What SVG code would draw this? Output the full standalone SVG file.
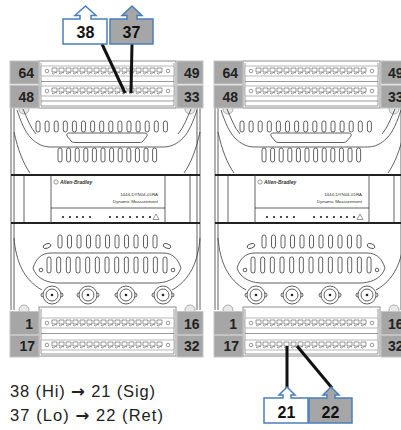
<svg xmlns="http://www.w3.org/2000/svg" width="401" height="430" viewBox="0 0 401 430">
<style>
  .ln{fill:none;stroke:#3a3a3a;stroke-width:0.8}
  .thin{fill:none;stroke:#555;stroke-width:0.6}
  .slot{fill:#fff;stroke:#3a3a3a;stroke-width:0.8}
  .frame{fill:#fff;stroke:#8c8c8c;stroke-width:1}
  .lbl{fill:#a6a6a6;stroke:#c4c4c4;stroke-width:1}
  .lt{font-family:"Liberation Sans",Arial,sans-serif;font-weight:bold;font-size:14px;fill:#222}
  .bar{fill:none;stroke:#222;stroke-width:2.2}
  .wire{stroke:#111;stroke-width:3}
  .co{stroke:#4a7ebb;stroke-width:1.5}
  .cot{font-family:"Liberation Sans",Arial,sans-serif;font-weight:bold;font-size:16px;fill:#111;text-anchor:middle}
  .note{font-family:"Liberation Sans",Arial,sans-serif;font-size:16.5px;fill:#222}
  .arr{font-family:"DejaVu Sans",sans-serif;font-weight:bold}
  .tiny{font-family:"Liberation Sans",Arial,sans-serif;fill:#333}
</style>
<defs>
  <!-- one 16-way terminal strip -->
  <g id="trow">
    <rect x="0" y="0" width="133" height="10" rx="1" fill="#fff" stroke="#9a9a9a" stroke-width="0.7"/>
    <circle cx="6" cy="5" r="1.8" class="thin"/>
    <circle cx="127" cy="5" r="1.8" class="thin"/>
    <path d="M11,2h5v4h-5z m7,0h5v4h-5z m7,0h5v4h-5z m7,0h5v4h-5z m7,0h5v4h-5z m7,0h5v4h-5z m7,0h5v4h-5z m7,0h5v4h-5z m7,0h5v4h-5z m7,0h5v4h-5z m7,0h5v4h-5z m7,0h5v4h-5z m7,0h5v4h-5z m7,0h5v4h-5z m7,0h5v4h-5z m7,0h5v4h-5z" fill="#fff" stroke="#555" stroke-width="0.6"/>
    <path class="thin" d="M11,7.2q1.25,1.6 2.5,0t2.5,0 m2,0q1.25,1.6 2.5,0t2.5,0 m2,0q1.25,1.6 2.5,0t2.5,0 m2,0q1.25,1.6 2.5,0t2.5,0 m2,0q1.25,1.6 2.5,0t2.5,0 m2,0q1.25,1.6 2.5,0t2.5,0 m2,0q1.25,1.6 2.5,0t2.5,0 m2,0q1.25,1.6 2.5,0t2.5,0 m2,0q1.25,1.6 2.5,0t2.5,0 m2,0q1.25,1.6 2.5,0t2.5,0 m2,0q1.25,1.6 2.5,0t2.5,0 m2,0q1.25,1.6 2.5,0t2.5,0 m2,0q1.25,1.6 2.5,0t2.5,0 m2,0q1.25,1.6 2.5,0t2.5,0 m2,0q1.25,1.6 2.5,0t2.5,0 m2,0q1.25,1.6 2.5,0t2.5,0"/>
  </g>
  <!-- BNC input connector -->
  <g id="bnc">
    <circle r="9" class="ln" fill="#fff"/>
    <circle r="6" class="ln"/>
    <circle r="1.3" fill="#222"/>
    <path class="ln" d="M-9,-2a2,2 0 0 0 0,4M9,-2a2,2 0 0 1 0,4"/>
  </g>
  <!-- 1444 dynamic measurement module -->
  <g id="dyn">
    <g fill="#e8e8e8" stroke="#9a9a9a" stroke-width="0.8">
      <circle cx="24" cy="109" r="5"/><circle cx="190" cy="109" r="5"/>
      <circle cx="24" cy="310" r="5"/><circle cx="190" cy="310" r="5"/>
    </g>
    <!-- housing sides -->
    <path class="ln" d="M11,108V310M14,108V310M197,108V310M200,108V310"/>
    <path class="ln" d="M24,175V223M190,175V223"/>
    <!-- upper cover -->
    <path class="ln" d="M17,110C21,122 25,132 31,138C37,144 43,147 51,147H163C171,147 177,144 183,138C189,132 193,122 197,110"/>
    <path class="ln" d="M23,109C27,118 30,127 36,134M191,109C187,118 184,127 178,134"/>
    <path class="ln" d="M14,132C18,150 23,163 30,173M200,132C196,150 191,163 184,173"/>
    <path class="slot" d="M36,123a2,2 0 0 1 4,0v7a2,2 0 0 1 -4,0z m9.1,0a2,2 0 0 1 4,0v7a2,2 0 0 1 -4,0z m9.1,0a2,2 0 0 1 4,0v7a2,2 0 0 1 -4,0z m9.1,0a2,2 0 0 1 4,0v7a2,2 0 0 1 -4,0z m9.1,0a2,2 0 0 1 4,0v7a2,2 0 0 1 -4,0z m9.1,0a2,2 0 0 1 4,0v7a2,2 0 0 1 -4,0z m9.1,0a2,2 0 0 1 4,0v7a2,2 0 0 1 -4,0z m9.1,0a2,2 0 0 1 4,0v7a2,2 0 0 1 -4,0z m9.1,0a2,2 0 0 1 4,0v7a2,2 0 0 1 -4,0z m9.1,0a2,2 0 0 1 4,0v7a2,2 0 0 1 -4,0z m9.1,0a2,2 0 0 1 4,0v7a2,2 0 0 1 -4,0z m9.1,0a2,2 0 0 1 4,0v7a2,2 0 0 1 -4,0z m9.1,0a2,2 0 0 1 4,0v7a2,2 0 0 1 -4,0z m9.1,0a2,2 0 0 1 4,0v7a2,2 0 0 1 -4,0z m9.1,0a2,2 0 0 1 4,0v7a2,2 0 0 1 -4,0z"/>
    <path class="slot" d="M70,133H144Q148,133 147,136L143,141Q142,142.5 139,142.5H75Q72,142.5 71,141L67,136Q66,133 70,133Z"/>
    <path class="slot" d="M58,150a2,2 0 0 1 4,0v10a2,2 0 0 1 -4,0z m8.6,0a2,2 0 0 1 4,0v10a2,2 0 0 1 -4,0z m8.6,0a2,2 0 0 1 4,0v10a2,2 0 0 1 -4,0z m8.6,0a2,2 0 0 1 4,0v10a2,2 0 0 1 -4,0z m8.6,0a2,2 0 0 1 4,0v10a2,2 0 0 1 -4,0z m8.6,0a2,2 0 0 1 4,0v10a2,2 0 0 1 -4,0z m8.6,0a2,2 0 0 1 4,0v10a2,2 0 0 1 -4,0z m8.6,0a2,2 0 0 1 4,0v10a2,2 0 0 1 -4,0z m8.6,0a2,2 0 0 1 4,0v10a2,2 0 0 1 -4,0z m8.6,0a2,2 0 0 1 4,0v10a2,2 0 0 1 -4,0z m8.6,0a2,2 0 0 1 4,0v10a2,2 0 0 1 -4,0z m8.6,0a2,2 0 0 1 4,0v10a2,2 0 0 1 -4,0z"/>
    <!-- label panel -->
    <path class="bar" d="M11,175H200M11,223H200"/>
    <path class="ln" d="M51,175V223M165,175V223M51,208H165"/>
    <circle cx="56" cy="182" r="2.1" class="thin"/>
    <text class="tiny" x="60" y="184" font-size="5" font-weight="bold" font-style="italic">Allen-Bradley</text>
    <text class="tiny" x="158" y="196" font-size="4.4" text-anchor="end">1444-DYN04-01RA</text>
    <text class="tiny" x="158" y="203" font-size="4.4" text-anchor="end">Dynamic Measurement</text>
    <g fill="#222">
      <circle cx="63" cy="217" r="1.1"/><circle cx="70" cy="217" r="1.1"/><circle cx="77" cy="217" r="1.1"/><circle cx="83" cy="217" r="1.1"/><circle cx="90" cy="217" r="1.1"/>
      <circle cx="110" cy="217" r="1.1"/><circle cx="117" cy="217" r="1.1"/><circle cx="123" cy="217" r="1.1"/><circle cx="130" cy="217" r="1.1"/><circle cx="137" cy="217" r="1.1"/><circle cx="143" cy="217" r="1.1"/><circle cx="150" cy="217" r="1.1"/>
    </g>
    <path class="thin" d="M156,214L159,219.5H153Z"/>
    <!-- lower cover -->
    <path class="slot" d="M58,237a2,2 0 0 1 4,0v9a2,2 0 0 1 -4,0z m9.5,0a2,2 0 0 1 4,0v9a2,2 0 0 1 -4,0z m9.5,0a2,2 0 0 1 4,0v9a2,2 0 0 1 -4,0z m9.5,0a2,2 0 0 1 4,0v9a2,2 0 0 1 -4,0z m9.5,0a2,2 0 0 1 4,0v9a2,2 0 0 1 -4,0z m9.5,0a2,2 0 0 1 4,0v9a2,2 0 0 1 -4,0z m9.5,0a2,2 0 0 1 4,0v9a2,2 0 0 1 -4,0z m9.5,0a2,2 0 0 1 4,0v9a2,2 0 0 1 -4,0z m9.5,0a2,2 0 0 1 4,0v9a2,2 0 0 1 -4,0z m9.5,0a2,2 0 0 1 4,0v9a2,2 0 0 1 -4,0z m9.5,0a2,2 0 0 1 4,0v9a2,2 0 0 1 -4,0z"/>
    <ellipse class="ln" cx="47" cy="246" rx="4" ry="2.2" transform="rotate(-20 47 246)"/>
    <ellipse class="ln" cx="167" cy="246" rx="4" ry="2.2" transform="rotate(20 167 246)"/>
    <path class="ln" d="M33,268C36,259 41,253 51,253H163C173,253 178,259 181,268C178,277 170,282 158,283H56C44,282 36,277 33,268Z"/>
    <path class="ln" d="M14,238C16,262 24,280 42,290M200,238C198,262 190,280 172,290"/>
    <path class="slot" d="M47,259a2,2 0 0 1 4,0v12a2,2 0 0 1 -4,0z m9.67,0a2,2 0 0 1 4,0v12a2,2 0 0 1 -4,0z m9.67,0a2,2 0 0 1 4,0v12a2,2 0 0 1 -4,0z m9.67,0a2,2 0 0 1 4,0v12a2,2 0 0 1 -4,0z m9.67,0a2,2 0 0 1 4,0v12a2,2 0 0 1 -4,0z m9.67,0a2,2 0 0 1 4,0v12a2,2 0 0 1 -4,0z m9.67,0a2,2 0 0 1 4,0v12a2,2 0 0 1 -4,0z m9.67,0a2,2 0 0 1 4,0v12a2,2 0 0 1 -4,0z m9.67,0a2,2 0 0 1 4,0v12a2,2 0 0 1 -4,0z m9.67,0a2,2 0 0 1 4,0v12a2,2 0 0 1 -4,0z m9.67,0a2,2 0 0 1 4,0v12a2,2 0 0 1 -4,0z m9.67,0a2,2 0 0 1 4,0v12a2,2 0 0 1 -4,0z m9.67,0a2,2 0 0 1 4,0v12a2,2 0 0 1 -4,0z"/>
    <circle class="ln" cx="41" cy="270" r="1.8"/>
    <circle class="ln" cx="173" cy="270" r="1.8"/>
    <use href="#bnc" x="52" y="295"/>
    <use href="#bnc" x="88" y="295"/>
    <use href="#bnc" x="126" y="295"/>
    <use href="#bnc" x="163" y="295"/>
    <!-- upper terminal block -->
    <rect class="frame" x="39" y="61" width="137" height="47"/>
    <path class="thin" stroke="#aaa" d="M41,63V106H174V63M41,81.5H174M41,101H174"/>
    <use href="#trow" x="41" y="66"/>
    <use href="#trow" x="41" y="86"/>
    <!-- lower terminal block -->
    <rect class="frame" x="39" y="307" width="137" height="49"/>
    <path class="thin" stroke="#aaa" d="M41,309V354H174V309M41,333.5H174"/>
    <use href="#trow" x="41" y="318"/>
    <use href="#trow" x="41" y="340"/>
    <!-- terminal numbering tabs -->
    <rect class="lbl" x="10" y="61" width="29" height="23"/>
    <rect class="lbl" x="10" y="85.5" width="29" height="22.5"/>
    <rect class="lbl" x="177" y="61" width="26" height="23"/>
    <rect class="lbl" x="177" y="85.5" width="26" height="22.5"/>
    <rect class="lbl" x="10" y="311.5" width="29" height="23"/>
    <rect class="lbl" x="10" y="335.5" width="29" height="21.5"/>
    <rect class="lbl" x="177" y="311.5" width="26" height="23"/>
    <rect class="lbl" x="177" y="335.5" width="26" height="21.5"/>
    <g class="lt">
      <text x="34" y="77.5" text-anchor="end">64</text>
      <text x="34" y="101.5" text-anchor="end">48</text>
      <text x="184" y="77.5">49</text>
      <text x="184" y="101.5">33</text>
      <text x="33" y="328.5" text-anchor="end">1</text>
      <text x="35" y="351" text-anchor="end">17</text>
      <text x="184" y="328.5">16</text>
      <text x="184" y="351">32</text>
    </g>
  </g>
</defs>

<g id="module-left"><use href="#dyn"/></g>
<g id="module-right"><use href="#dyn" x="204"/></g>

<g id="connectors" class="wire">
  <line x1="102" y1="44" x2="125" y2="93"/>
  <line x1="132" y1="44" x2="131" y2="93"/>
  <line x1="287" y1="346" x2="287" y2="388"/>
  <line x1="297" y1="346" x2="332" y2="388"/>
</g>

<g id="callout-38">
  <path class="co" fill="#fff" d="M63,19H80V15.5H75L85.5,6L96,15.5H91V19H107V44H63Z"/>
  <text class="cot" x="85.5" y="37.5">38</text>
</g>
<g id="callout-37">
  <path class="co" fill="#a6a6a6" d="M110,19H127V15.5H122L132,6L142,15.5H137V19H153V44H110Z"/>
  <text class="cot" x="131.5" y="37.5">37</text>
</g>
<g id="callout-21">
  <path class="co" fill="#fff" d="M264,398H283V395H279L287,387L295,395H291V398H308V423H264Z"/>
  <text class="cot" x="286.5" y="418">21</text>
</g>
<g id="callout-22">
  <path class="co" fill="#a6a6a6" d="M309,398H327V395H323L331,387L339,395H335V398H352V423H309Z"/>
  <text class="cot" x="330.5" y="418">22</text>
</g>

<g id="wiring-note" class="note">
  <text x="10" y="397" textLength="145" lengthAdjust="spacing">38 (Hi) <tspan class="arr">→</tspan> 21 (Sig)</text>
  <text x="10" y="421" textLength="153" lengthAdjust="spacing">37 (Lo) <tspan class="arr">→</tspan> 22 (Ret)</text>
</g>
</svg>
